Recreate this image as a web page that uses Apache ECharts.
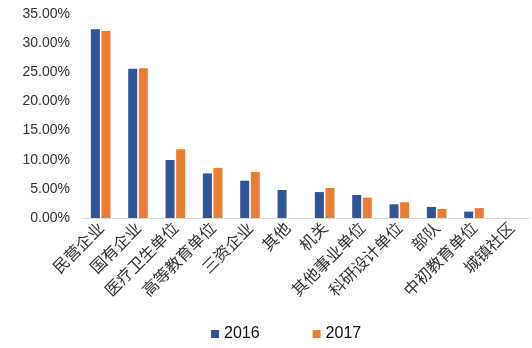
<!DOCTYPE html>
<html><head><meta charset="utf-8">
<script src="https://cdn.jsdelivr.net/npm/echarts@6/dist/echarts.min.js"></script>
<style>html,body{margin:0;padding:0;background:#fff}#c{width:532px;height:348px}</style>
</head><body><div id="c"></div>
<script>
const categories = ['民营企业','国有企业','医疗卫生单位','高等教育单位','三资企业','其他','机关','其他事业单位','科研设计单位','部队','中初教育单位','城镇社区'];
const values2016 = [32.4, 25.6, 9.95, 7.65, 6.4, 4.8, 4.45, 3.95, 2.35, 1.9, 1.1, 0];
const values2017 = [32.1, 25.7, 11.8, 8.6, 7.9, 0, 5.15, 3.5, 2.7, 1.55, 1.7, 0];
const seriesNames = ['2016', '2017'];

const chart = echarts.init(document.getElementById('c'));
chart.setOption({
  animation: false,
  grid: {left: 82, right: 2, top: 14, bottom: 130, containLabel: false},
  legend: {
    data: seriesNames, left: 206, top: 321, itemWidth: 8, itemHeight: 8, itemGap: 53,
    icon: 'rect',
    textStyle: {fontSize: 16, color: '#111', fontFamily: 'Liberation Sans'}
  },
  xAxis: {
    type: 'category', data: categories,
    axisLine: {lineStyle: {color: '#d9d9d9', width: 1}},
    axisTick: {show: false},
    axisLabel: {rotate: 45, interval: 0, fontSize: 16, color: '#333', margin: 7, fontFamily: 'Noto Sans CJK SC'}
  },
  yAxis: {
    type: 'value', min: 0, max: 35, interval: 5,
    axisLine: {show: false}, axisTick: {show: false}, splitLine: {show: false},
    axisLabel: {fontSize: 14, color: '#333', margin: 12, fontFamily: 'Liberation Sans',
      formatter: v => v.toFixed(2) + '%'}
  },
  series: [
    {name: seriesNames[0], type: 'bar', data: values2016, barWidth: 9, barGap: '18%', itemStyle: {color: '#2F5597'}},
    {name: seriesNames[1], type: 'bar', data: values2017, barWidth: 9, itemStyle: {color: '#ED7D31'}}
  ]
});
</script></body></html>
